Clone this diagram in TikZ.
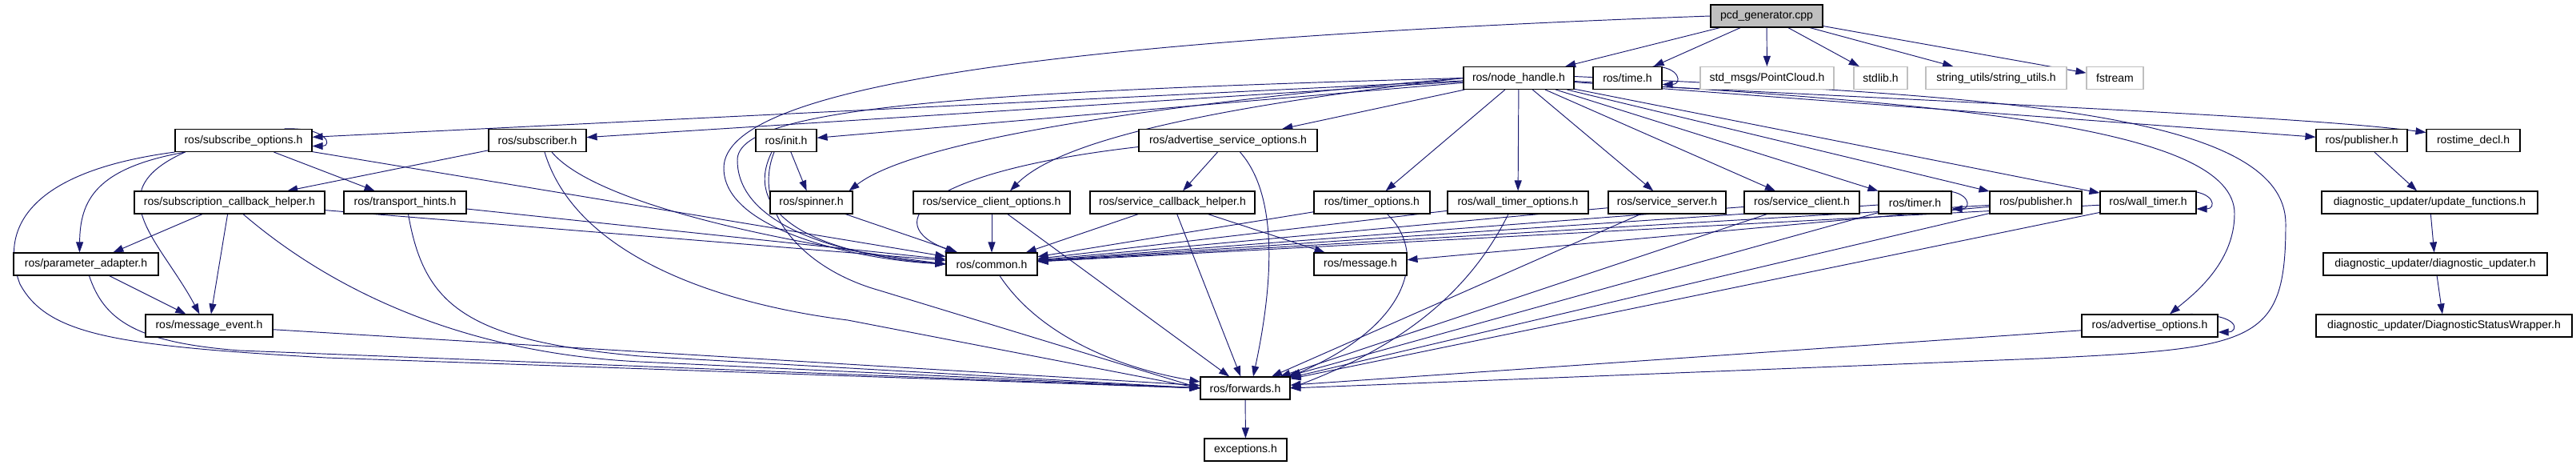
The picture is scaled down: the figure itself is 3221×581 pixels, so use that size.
\documentclass[tikz,border=0pt]{standalone}
\usepackage{fontspec}
\setmainfont{Liberation Sans}
\usetikzlibrary{arrows.meta,backgrounds}
\definecolor{edgeblue}{HTML}{191970}
\definecolor{extgray}{HTML}{BFBFBF}

\begin{document}
\begin{tikzpicture}[x=1pt,y=-1pt,
    hfile/.style={draw=black,line width=1.1pt,fill=white,minimum height=28pt,inner sep=0pt,font=\fontsize{14}{16}\selectfont},
    ext/.style={hfile,draw=extgray},
    src/.style={hfile,fill=extgray},
    inc/.style={draw=edgeblue,line width=0.95pt,-{Triangle[length=13pt,width=9pt]}}]
    \useasboundingbox (0,0) rectangle (3221,581);

    \node[src,minimum width=140pt] (pcd) at (2209,20) {pcd\_generator.cpp};

    \node[hfile,minimum width=138pt] (nh) at (1899,97.5) {ros/node\_handle.h};
    \node[hfile,minimum width=86pt] (time) at (2035,97.5) {ros/time.h};
    \node[ext,minimum width=167pt] (pcloud) at (2209.5,97.5) {std\_msgs/PointCloud.h};
    \node[ext,minimum width=67pt] (stdlib) at (2351.5,97.5) {stdlib.h};
    \node[ext,minimum width=176pt] (strutils) at (2496,97.5) {string\_utils/string\_utils.h};
    \node[ext,minimum width=71pt] (fstream) at (2644.5,97.5) {fstream};

    \node[hfile,minimum width=171pt] (subopts) at (304.5,175.5) {ros/subscribe\_options.h};
    \node[hfile,minimum width=122pt] (subscriber) at (672,175.5) {ros/subscriber.h};
    \node[hfile,minimum width=76pt] (init) at (983,175.5) {ros/init.h};
    \node[hfile,minimum width=223pt] (advsrvopts) at (1535.5,175.5) {ros/advertise\_service\_options.h};
    \node[hfile,minimum width=114pt] (diagpub) at (2953,175.5) {ros/publisher.h};
    \node[hfile,minimum width=117pt] (rostimedecl) at (3092.5,175.5) {rostime\_decl.h};

    \node[hfile,minimum width=238pt] (subcb) at (287,253) {ros/subscription\_callback\_helper.h};
    \node[hfile,minimum width=153pt] (hints) at (506.5,253) {ros/transport\_hints.h};
    \node[hfile,minimum width=103pt] (spinner) at (1014.5,253) {ros/spinner.h};
    \node[hfile,minimum width=196pt] (srvcliopts) at (1240,253) {ros/service\_client\_options.h};
    \node[hfile,minimum width=206pt] (srvcb) at (1466,253) {ros/service\_callback\_helper.h};
    \node[hfile,minimum width=145pt] (timeropts) at (1715.5,253) {ros/timer\_options.h};
    \node[hfile,minimum width=176pt] (wtimeropts) at (1898,253) {ros/wall\_timer\_options.h};
    \node[hfile,minimum width=147pt] (srvserver) at (2084.5,253) {ros/service\_server.h};
    \node[hfile,minimum width=144pt] (srvclient) at (2253,253) {ros/service\_client.h};
    \node[hfile,minimum width=91pt] (timer) at (2394.5,253) {ros/timer.h};
    \node[hfile,minimum width=115pt] (publisher) at (2545.5,253) {ros/publisher.h};
    \node[hfile,minimum width=120pt] (wtimer) at (2686,253) {ros/wall\_timer.h};
    \node[hfile,minimum width=270pt] (updfun) at (3038,253) {diagnostic\_updater/update\_functions.h};

    \node[hfile,minimum width=181pt] (paramad) at (107.5,330) {ros/parameter\_adapter.h};
    \node[hfile,minimum width=114pt] (common) at (1240,330) {ros/common.h};
    \node[hfile,minimum width=116pt] (message) at (1701,330) {ros/message.h};
    \node[hfile,minimum width=280pt] (diagupd) at (3045,330) {diagnostic\_updater/diagnostic\_updater.h};

    \node[hfile,minimum width=159pt] (msgevent) at (261.5,407) {ros/message\_event.h};
    \node[hfile,minimum width=170pt] (advopts) at (2688,407) {ros/advertise\_options.h};
    \node[hfile,minimum width=320pt] (dsw) at (3056,407) {diagnostic\_updater/DiagnosticStatusWrapper.h};

    \node[hfile,minimum width=112pt] (forwards) at (1557,485) {ros/forwards.h};
    \node[hfile,minimum width=103pt] (exceptions) at (1557.5,562) {exceptions.h};

    \begin{scope}[on background layer]
    \foreach \a/\b in {pcd/nh,pcd/time,pcd/pcloud,pcd/stdlib,pcd/strutils,pcd/fstream,
        nh/subopts,nh/subscriber,nh/init,nh/advsrvopts,nh/timeropts,nh/wtimeropts,
        nh/srvserver,nh/srvclient,nh/timer,nh/publisher,nh/wtimer,nh/diagpub,
        subopts/hints,subopts/common,subscriber/subcb,
        subcb/paramad,subcb/msgevent,subcb/common,hints/common,
        paramad/msgevent,msgevent/forwards,init/spinner,spinner/common,
        advsrvopts/srvcb,srvcliopts/common,srvcliopts/forwards,
        srvcb/common,srvcb/message,srvcb/forwards,
        timeropts/common,wtimeropts/common,srvserver/common,srvserver/forwards,
        srvclient/common,srvclient/forwards,timer/common,timer/forwards,
        publisher/common,publisher/message,publisher/forwards,
        wtimer/common,wtimer/forwards,advopts/forwards,
        forwards/exceptions,diagpub/updfun,updfun/diagupd,diagupd/dsw}
        \draw[inc] (\a) -- (\b);

    \draw[inc] (pcd.west) .. controls (1300,50) and (905,110) .. (905,210) .. controls (905,290) and (1080,325) .. (common.west);
    \draw[inc] (nh.west) .. controls (1200,115) and (922,135) .. (922,200) .. controls (922,285) and (1060,320) .. (common.west);
    \draw[inc] (nh.west) .. controls (1500,125) and (1150,170) .. ([xshift=-5pt]spinner.north east);
    \draw[inc] (nh.west) .. controls (1550,130) and (1330,170) .. ([xshift=23pt]srvcliopts.north);
    \draw[inc] ([yshift=-4pt]nh.east) .. controls (2450,130) and (2794,160) .. (2794,267) .. controls (2794,330) and (2740,370) .. ([xshift=25pt]advopts.north);
    \draw[inc] ([yshift=2pt]nh.east) .. controls (2500,120) and (2858,140) .. (2858,280) .. controls (2858,430) and (2820,435) .. (2550,448) -- (forwards.east);
    \draw[inc] ([yshift=-11pt]time.east) .. controls (2600,135) and (2900,148) .. ([yshift=10pt]rostimedecl.west);

    \draw[inc] ([xshift=-12pt]time.north east) .. controls +(35,0) and +(25,0) .. ([yshift=-8pt]time.east);
    \draw[inc] ([xshift=-35pt]subopts.north east) .. controls +(55,-2) and +(25,0) .. ([yshift=-7pt]subopts.east);
    \draw[inc] ([xshift=-12pt]timer.north east) .. controls +(35,0) and +(25,0) .. ([yshift=-8pt]timer.east);
    \draw[inc] ([xshift=-16pt]wtimer.north east) .. controls +(40,0) and +(25,0) .. ([yshift=-8pt]wtimer.east);
    \draw[inc] ([xshift=-35pt]advopts.north east) .. controls +(65,0) and +(25,0) .. ([yshift=-8pt]advopts.east);

    \draw[inc] ([xshift=13pt]subopts.south west) .. controls (120,210) and (100,250) .. ([xshift=-8pt]paramad.north);
    \draw[inc] ([xshift=13pt]subopts.south west) .. controls (120,240) and (200,300) .. ([xshift=-12pt]msgevent.north);
    \draw[inc] (subopts.south west) .. controls (30,215) and (0,290) .. (25,355) .. controls (60,420) and (150,432) .. (408,447) -- (forwards.west);
    \draw[inc] ([xshift=18pt]subscriber.south) .. controls (740,250) and (950,300) .. (common.west);
    \draw[inc] ([xshift=9pt]subscriber.south) .. controls (720,320) and (900,380) .. (1060,400) -- (forwards.west);
    \draw[inc] ([xshift=17pt]subcb.south) .. controls (400,350) and (560,440) .. (800,452) -- (forwards.west);
    \draw[inc] ([xshift=4pt]hints.south) .. controls (530,380) and (580,425) .. (800,445) -- (forwards.west);
    \draw[inc] ([xshift=4pt]paramad.south) .. controls (130,400) and (170,428) .. (300,438) -- (forwards.west);
    \draw[inc] ([xshift=-18pt]init.south) .. controls (930,260) and (1000,315) .. (common.west);
    \draw[inc] ([xshift=-15pt]init.south) .. controls (940,260) and (1000,335) .. (1100,363) -- (forwards.west);
    \draw[inc] ([yshift=-8pt]advsrvopts.west) .. controls (1150,215) and (1100,280) .. ([xshift=-45pt]common.north);
    \draw[inc] ([xshift=15pt]advsrvopts.south) .. controls (1595,240) and (1595,340) .. ([xshift=10pt]forwards.north);
    \draw[inc] ([xshift=19pt]timeropts.south) .. controls (1780,310) and (1775,400) .. (forwards.north east);
    \draw[inc] ([xshift=-12pt]wtimeropts.south) .. controls (1840,360) and (1760,430) .. (forwards.east);
    \draw[inc] ([xshift=10pt]common.south) .. controls (1300,420) and (1400,460) .. ([yshift=8pt]forwards.west);
    \end{scope}
\end{tikzpicture}
\end{document}
